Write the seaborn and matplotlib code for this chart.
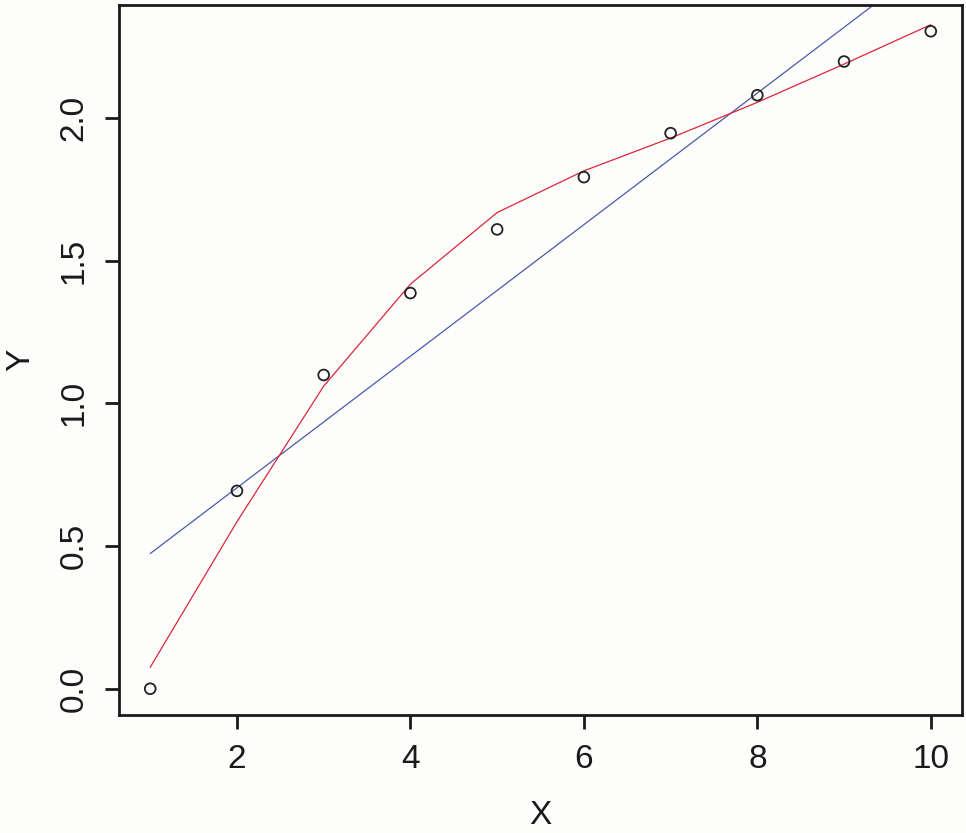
import numpy as np
import pandas as pd
import matplotlib
matplotlib.use("Agg")
import matplotlib.pyplot as plt
import seaborn as sns

# observed points
x_vals = [1, 2, 3, 4, 5, 6, 7, 8, 9, 10]
y_vals = [0.0, 0.693, 1.099, 1.386, 1.609, 1.792, 1.946, 2.079, 2.197, 2.303]

# red fitted curve (values read at each x)
fit_y = [0.075, 0.585, 1.06, 1.417, 1.668, 1.814, 1.929, 2.054, 2.188, 2.326]

x_ticks = [2, 4, 6, 8, 10]
y_ticks = [0.0, 0.5, 1.0, 1.5, 2.0]

df = pd.DataFrame({"X": x_vals, "Y": y_vals, "fit": fit_y})

sns.set_style("white")
plt.rcParams["font.family"] = ["Liberation Sans", "DejaVu Sans"]

bg = "#fdfdfb"
ink = "#1a1a1a"
fig = plt.figure(figsize=(9.66, 8.33), dpi=100, facecolor=bg)
ax = fig.add_axes([119 / 966, 1 - 715 / 833, (962 - 119) / 966, (715 - 5) / 833])
ax.set_facecolor(bg)

# least-squares straight line, from x=1 onward (clipped at the top)
sns.regplot(data=df, x="X", y="Y", ax=ax, scatter=False, ci=None,
            truncate=True, line_kws={"color": "#4a5aa8", "linewidth": 0.9})
sns.lineplot(data=df, x="X", y="fit", ax=ax, color="#d8283a", linewidth=0.9)
sns.scatterplot(data=df, x="X", y="Y", ax=ax, marker="o", s=60,
                facecolor="none", edgecolor="#222222", linewidth=1.3, zorder=5)

ax.set_xlim(0.64, 10.36)
ax.set_ylim(-0.092, 2.395)
ax.set_xticks(x_ticks)
ax.set_xticklabels([str(t) for t in x_ticks])
ax.set_yticks(y_ticks)
ax.set_yticklabels([f"{t:.1f}" for t in y_ticks], rotation=90, va="center")

for s in ax.spines.values():
    s.set_visible(True)
    s.set_color(ink)
    s.set_linewidth(2.0)

ax.tick_params(axis="both", which="major", length=10, width=2.0,
               color=ink, labelsize=24, pad=11, labelcolor=ink,
               direction="out", bottom=True, left=True)

ax.set_xlabel("X", fontsize=24, color=ink, labelpad=18)
ax.set_ylabel("Y", fontsize=24, color=ink, labelpad=16)

fig.savefig("out.png", dpi=100, facecolor=bg)
